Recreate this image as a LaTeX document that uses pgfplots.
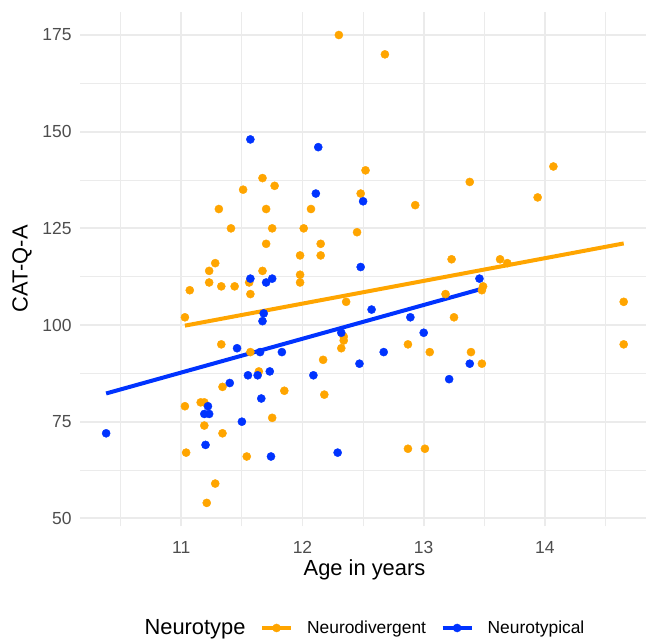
\documentclass[border=0pt]{standalone}
\usepackage{pgfplots}
\pgfplotsset{compat=1.18}
\usepackage{fontspec}
\setmainfont{Liberation Sans}
\definecolor{ndorange}{HTML}{FFA500}
\definecolor{ntblue}{HTML}{0033FF}
\definecolor{gridgray}{HTML}{EBEBEB}
\definecolor{tickgray}{HTML}{4D4D4D}
\begin{document}
\begin{tikzpicture}
\begin{axis}[
  at={(60.15pt,86.03pt)}, anchor=south west,
  scale only axis, width=424.35pt, height=386.0pt,
  xmin=10.166, xmax=14.834, ymin=47.95, ymax=181.05,
  axis line style={draw=none},
  tick style={draw=none},
  major tick length=0pt, minor tick length=0pt,
  xtick={11,12,13,14}, ytick={50,75,100,125,150,175},
  minor xtick={10.5,11.5,12.5,13.5,14.5},
  minor ytick={62.5,87.5,112.5,137.5,162.5},
  grid=both,
  major grid style={gridgray, line width=1.3pt},
  minor grid style={gridgray, line width=0.65pt},
  /pgf/number format/assume math mode=true,
  ticklabel style={font=\fontsize{13.1}{15}\selectfont, text=tickgray},
  xticklabel style={yshift=-7.5pt},
  yticklabel style={xshift=-3pt},
  xlabel={Age in years}, ylabel={CAT-Q-A},
  label style={font=\fontsize{16.4}{19}\selectfont},
  xlabel style={at={(axis description cs:0.5025,-0.084)}, anchor=center},
  ylabel style={at={(axis description cs:-0.1029,0.5)}, anchor=center},
  legend image code/.code={%
    \draw[mark repeat=2,mark phase=2,#1] plot coordinates {(0pt,0pt)(10.9pt,0pt)(21.8pt,0pt)};},
  legend style={at={(0.4901,-0.1976)}, anchor=center, draw=none, fill=none,
    legend columns=-1,
    font=\fontsize{13.05}{15}\selectfont,
    nodes={inner xsep=0pt, inner ysep=2pt},
    /tikz/every odd column/.append style={column sep=10.5pt},
    /tikz/every even column/.append style={column sep=10.9pt}},
]
% Neurodivergent points
\addplot[ndorange, only marks, mark=*, mark size=3.05pt, line width=0.3pt, forget plot] table {
x y
12.30 175
12.68 170
14.07 141
12.52 140
11.67 138
13.38 137
11.77 136
11.51 135
12.48 134
13.94 133
12.93 131
11.31 130
11.70 130
12.07 130
11.41 125
11.75 125
12.01 125
12.45 124
11.70 121
12.15 121
11.98 118
12.15 118
13.23 117
13.63 117
13.69 116
11.28 116
11.23 114
11.67 114
11.98 113
11.23 111
11.56 111
11.98 111
11.33 110
11.44 110
13.49 110
11.07 109
13.48 109
11.57 108
13.18 108
12.36 106
14.65 106
11.03 102
13.25 102
12.34 97
12.34 96
11.33 95
12.87 95
14.65 95
12.32 94
11.57 93
13.05 93
13.39 93
12.17 91
13.48 90
11.64 88
11.34 84
11.85 83
12.18 82
11.03 79
11.16 80
11.19 80
11.75 76
11.19 74
11.34 72
11.04 67
11.54 66
12.87 68
13.01 68
11.28 59
11.21 54
};
% Neurotypical points
\addplot[ntblue, only marks, mark=*, mark size=3.05pt, line width=0.3pt, forget plot] table {
x y
11.57 148
12.13 146
12.11 134
12.50 132
12.48 115
11.57 112
11.75 112
13.46 112
11.70 111
12.57 104
11.68 103
11.67 101
12.89 102
12.32 98
13.00 98
11.46 94
11.65 93
11.83 93
12.67 93
12.47 90
13.38 90
11.73 88
11.55 87
11.63 87
12.09 87
13.21 86
11.40 85
11.66 81
11.22 79
11.19 77
11.23 77
11.50 75
10.38 72
11.20 69
12.29 67
11.74 66
};
% fitted lines
\addplot[ndorange, line width=3pt, forget plot] coordinates {(11.03,99.84) (14.65,121.1)};
\addplot[ntblue, line width=3pt, forget plot] coordinates {(10.38,82.3) (13.46,109.2)};
\addlegendimage{empty legend}
\addlegendentry{\fontsize{16.4}{19}\selectfont Neurotype}
\addlegendimage{ndorange, line width=3pt, mark=*, mark size=3.05pt, mark options={line width=0.3pt}}
\addlegendentry{Neurodivergent}
\addlegendimage{ntblue, line width=3pt, mark=*, mark size=3.05pt, mark options={line width=0.3pt}}
\addlegendentry{Neurotypical}
\end{axis}
\pgfresetboundingbox
\path[use as bounding box] (0,0) rectangle (484.5pt,480.75pt);
\end{tikzpicture}
\end{document}
